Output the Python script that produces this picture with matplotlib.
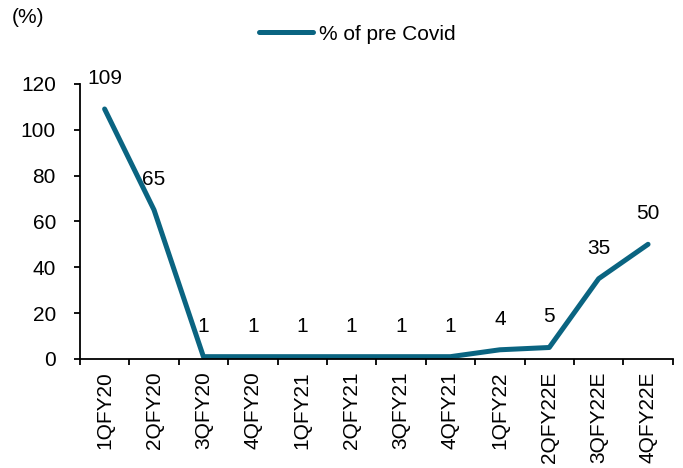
import matplotlib.pyplot as plt

plt.rcParams['font.family'] = ['Liberation Sans', 'DejaVu Sans']
plt.rcParams['font.size'] = 15

quarters = ['1QFY20', '2QFY20', '3QFY20', '4QFY20', '1QFY21', '2QFY21',
            '3QFY21', '4QFY21', '1QFY22', '2QFY22E', '3QFY22E', '4QFY22E']
pct_pre_covid = [109, 65, 1, 1, 1, 1, 1, 1, 4, 5, 35, 50]

line_col = '#0A6481'

fig = plt.figure(figsize=(6.83, 4.68), dpi=100)
ax = fig.add_axes([0.117, 0.233, 0.868, 0.588])

x = range(len(quarters))
ax.plot(x, pct_pre_covid, color=line_col, linewidth=3.6,
        solid_capstyle='round', solid_joinstyle='round', label='% of pre Covid')

# value labels sit a fixed distance above each point
for i, v in enumerate(pct_pre_covid):
    ax.annotate(str(v), (i, v), xytext=(0, 22), textcoords='offset points',
                ha='center', va='center')

ax.set_xlim(-0.5, len(quarters) - 0.5)
ax.set_ylim(0, 120)
ax.set_yticks(range(0, 121, 20))

# category labels at the centres, tick marks on the boundaries
ax.set_xticks(list(x))
ax.set_xticklabels(quarters, rotation=90)
ax.set_xticks([i - 0.5 for i in range(len(quarters) + 1)], minor=True)
ax.tick_params(axis='x', which='major', length=0, pad=9)
ax.tick_params(axis='x', which='minor', length=4.3, width=1.3, direction='out')
ax.tick_params(axis='y', length=4.3, width=1.3, direction='out', pad=13)

for s in ['top', 'right']:
    ax.spines[s].set_visible(False)
for s in ['left', 'bottom']:
    ax.spines[s].set_linewidth(1.3)
    ax.spines[s].set_color('black')

fig.text(0.017, 0.962, '(%)', va='center', ha='left')
fig.legend(loc='center', bbox_to_anchor=(0.523, 0.927), frameon=False,
           handlelength=2.6, handletextpad=0.25)

fig.savefig('out.png', dpi=100)
